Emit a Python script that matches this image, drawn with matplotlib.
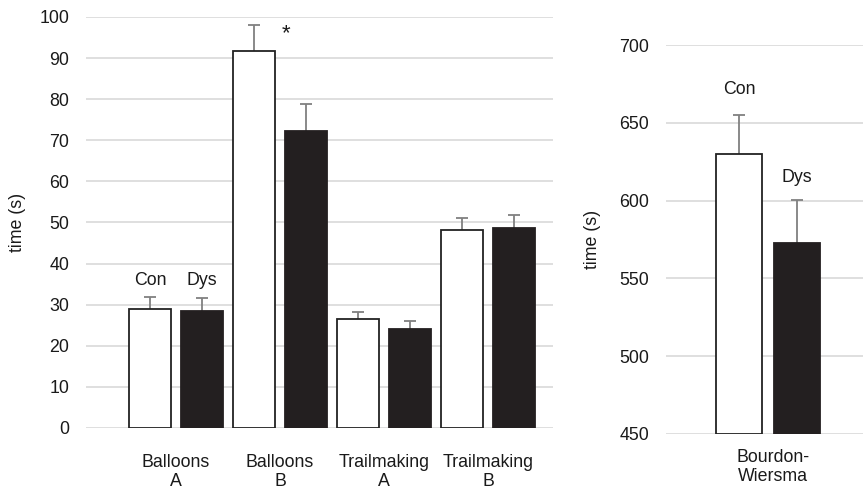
import matplotlib
matplotlib.use("Agg")
import matplotlib.pyplot as plt
import numpy as np

plt.rcParams['font.family'] = ['Liberation Sans', 'DejaVu Sans']

categories = ["Balloons\nA", "Balloons\nB", "Trailmaking\nA", "Trailmaking\nB"]
con_means = [28.9, 91.7, 26.4, 48.2]
con_err = [3.0, 6.3, 1.8, 2.8]
dys_means = [28.5, 72.3, 24.2, 48.6]
dys_err = [3.2, 6.6, 1.8, 3.2]

bw_category = ["Bourdon-\nWiersma"]
bw_con = [630.0]
bw_con_err = [25.3]
bw_dys = [572.5]
bw_dys_err = [27.7]

W, H = 863, 492
fig = plt.figure(figsize=(W / 100, H / 100), dpi=100)

grid_c = '#d9d9d9'
err_c = '#808080'
dark = '#231f20'
txt_c = '#1a1a1a'
fs = 12.8

def style(ax):
    for s in ax.spines.values():
        s.set_visible(False)
    ax.yaxis.grid(True, color=grid_c, linewidth=1.2)
    ax.set_axisbelow(True)
    ax.tick_params(axis='both', length=0, labelsize=fs, colors=txt_c)

def upper_err(ax, xs, means, errs):
    xs = np.asarray(xs, float)
    tops = np.asarray(means, float) + np.asarray(errs, float)
    ax.vlines(xs, means, tops, colors=err_c, linewidth=1.3, zorder=2)
    ax.plot(xs, tops, linestyle='none', marker='_', markersize=8, markeredgewidth=1.3,
            color=err_c, zorder=2)

# Left panel
ax = fig.add_axes([86 / W, 1 - 428 / H, 467 / W, 411 / H])
style(ax)
x = np.arange(len(categories))
bw = 0.395
off = 0.25
ax.bar(x - off, con_means, bw, color='white', edgecolor='#222222', linewidth=1.3, zorder=3)
ax.bar(x + off, dys_means, bw, color=dark, edgecolor=dark, linewidth=1.3, zorder=3)
upper_err(ax, x - off, con_means, con_err)
upper_err(ax, x + off, dys_means, dys_err)
ax.set_xlim(-0.865, 3.625)
ax.set_ylim(0, 100)
ax.set_yticks(np.arange(0, 101, 10))
ax.set_xticks(x)
ax.set_xticklabels(categories, linespacing=1.15)
ax.tick_params(axis='x', pad=19)
ax.tick_params(axis='y', pad=12)
ax.set_ylabel('time (s)', fontsize=fs, labelpad=10, color=txt_c)
ax.text(0 - off, 33.9, 'Con', ha='center', va='bottom', fontsize=fs, color=txt_c)
ax.text(0 + off, 33.9, 'Dys', ha='center', va='bottom', fontsize=fs, color=txt_c)
ax.text(1 + 0.06, 93.5, '*', ha='center', va='bottom', fontsize=16, color=txt_c)

# Right panel
ax2 = fig.add_axes([666 / W, 1 - 434 / H, 197 / W, 389 / H])
style(ax2)
x2 = np.arange(len(bw_category))
bw2 = 0.44
off2 = 0.28
ax2.bar(x2 - off2, np.array(bw_con) - 450, bw2, bottom=450, color='white', edgecolor='#222222',
        linewidth=1.3, zorder=3)
ax2.bar(x2 + off2, np.array(bw_dys) - 450, bw2, bottom=450, color=dark, edgecolor=dark,
        linewidth=1.3, zorder=3)
upper_err(ax2, x2 - off2, bw_con, bw_con_err)
upper_err(ax2, x2 + off2, bw_dys, bw_dys_err)
ax2.set_xlim(-0.981, 0.913)
ax2.set_ylim(450, 700)
ax2.set_yticks(np.arange(450, 701, 50))
ax2.set_xticks(x2 + 0.05)
ax2.set_xticklabels(bw_category, linespacing=1.15)
ax2.tick_params(axis='x', pad=11)
ax2.tick_params(axis='y', pad=12)
ax2.set_ylabel('time (s)', fontsize=fs, labelpad=13, color=txt_c)
ax2.text(0 - off2, 666, 'Con', ha='center', va='bottom', fontsize=fs, color=txt_c)
ax2.text(0 + off2, 609.5, 'Dys', ha='center', va='bottom', fontsize=fs, color=txt_c)

fig.savefig('out.png', dpi=100)
